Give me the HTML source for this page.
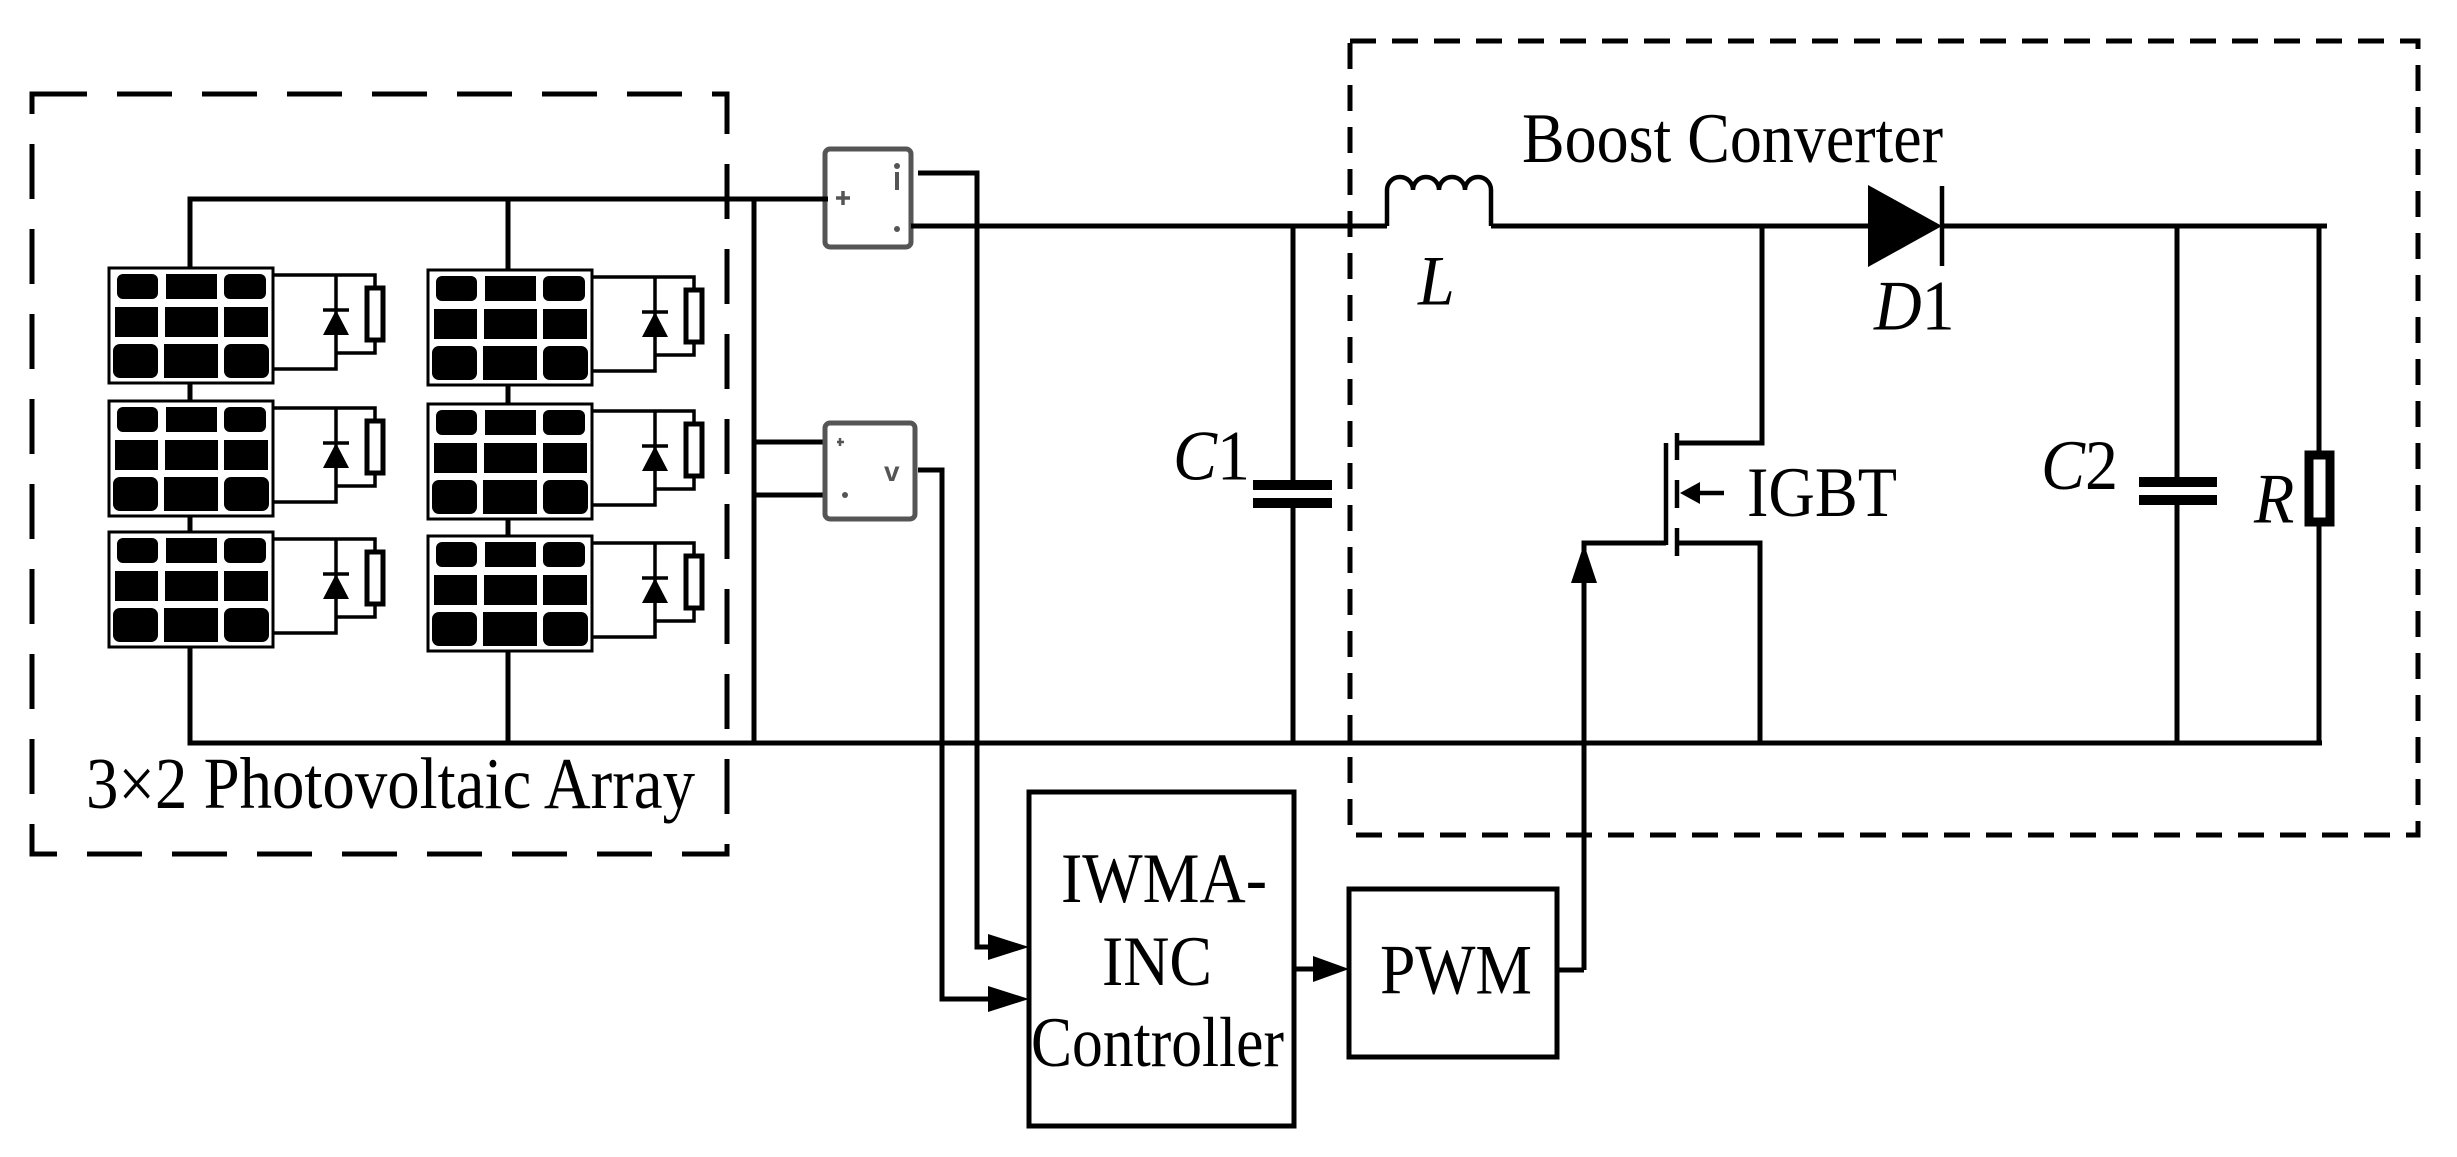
<!DOCTYPE html>
<html><head><meta charset="utf-8"><style>
html,body{margin:0;padding:0;background:#fff;}
svg{display:block;}
text{font-family:"Liberation Serif",serif;fill:#000;}
</style></head><body>
<svg width="2457" height="1157" viewBox="0 0 2457 1157" xmlns="http://www.w3.org/2000/svg">
<defs>
<g id="panel">
  <rect x="0" y="0" width="164" height="115" fill="#fff" stroke="#000" stroke-width="3"/>
  <rect x="8" y="6" width="41" height="25" rx="6" fill="#000"/>
  <rect x="57" y="6" width="51" height="25" fill="#000"/>
  <rect x="115" y="6" width="42" height="25" rx="6" fill="#000"/>
  <rect x="6" y="39" width="43" height="30" fill="#000"/>
  <rect x="56" y="39" width="53" height="30" fill="#000"/>
  <rect x="115" y="39" width="44" height="30" fill="#000"/>
  <rect x="4" y="76" width="45" height="34" rx="7" fill="#000"/>
  <rect x="55" y="76" width="54" height="34" fill="#000"/>
  <rect x="115" y="76" width="45" height="34" rx="7" fill="#000"/>
  <g stroke="#000" stroke-width="3.5" fill="none">
    <polyline points="164,7 266,7 266,20"/>
    <polyline points="266,72 266,85 227,85"/>
    <polyline points="164,101 227,101 227,7"/>
    <line x1="214" y1="42" x2="240" y2="42"/>
  </g>
  <rect x="258" y="20" width="16" height="52" fill="#fff" stroke="#000" stroke-width="5"/>
  <polygon points="227,42 214,67 240,67" fill="#000"/>
</g>
</defs>

<rect x="32" y="94" width="695" height="760" fill="none" stroke="#000" stroke-width="5" stroke-dasharray="55,30"/>
<rect x="1350" y="41" width="1068" height="794" fill="none" stroke="#000" stroke-width="5" stroke-dasharray="26,16"/>

<use href="#panel" x="109" y="268"/>
<use href="#panel" x="109" y="401"/>
<use href="#panel" x="109" y="532"/>
<use href="#panel" x="428" y="270"/>
<use href="#panel" x="428" y="404"/>
<use href="#panel" x="428" y="536"/>

<g stroke="#000" stroke-width="5" fill="none">
  <polyline points="190,268 190,199 826,199"/>
  <line x1="508" y1="199" x2="508" y2="270"/>
  <line x1="190" y1="383" x2="190" y2="401"/>
  <line x1="190" y1="516" x2="190" y2="532"/>
  <line x1="508" y1="385" x2="508" y2="404"/>
  <line x1="508" y1="519" x2="508" y2="536"/>
  <polyline points="190,647 190,743 2322,743"/>
  <line x1="508" y1="651" x2="508" y2="743"/>
  <line x1="754" y1="199" x2="754" y2="743"/>
  <line x1="754" y1="442" x2="825" y2="442"/>
  <line x1="754" y1="495" x2="825" y2="495"/>
  <line x1="913" y1="226" x2="1387" y2="226"/>
  <line x1="1491" y1="226" x2="1870" y2="226"/>
  <line x1="1942" y1="226" x2="2327" y2="226"/>
  <path d="M1387,226 L1387,190 A13,13 0 0 1 1413,190 A13,13 0 0 1 1439,190 A13,13 0 0 1 1465,190 A13,13 0 0 1 1491,190 L1491,226" stroke-width="4.5"/>
  <polyline points="918,173 977,173 977,947 990,947"/>
  <polyline points="918,470 942,470 942,999 990,999"/>
  <line x1="1293" y1="226" x2="1293" y2="480"/>
  <line x1="1293" y1="508" x2="1293" y2="743"/>
  <polyline points="1762,226 1762,443 1677,443"/>
  <polyline points="1677,543 1760,543 1760,743"/>
  <line x1="1677" y1="433" x2="1677" y2="460" stroke-width="4.5"/>
  <line x1="1677" y1="480" x2="1677" y2="508" stroke-width="4.5"/>
  <line x1="1677" y1="528" x2="1677" y2="556" stroke-width="4.5"/>
  <line x1="1666" y1="443" x2="1666" y2="545" stroke-width="4.5"/>
  <line x1="1690" y1="493" x2="1724" y2="493" stroke-width="4.5"/>
  <polyline points="1584,970 1584,543 1666,543"/>
  <line x1="1942" y1="186" x2="1942" y2="266" stroke-width="4.5"/>
  <line x1="2177" y1="226" x2="2177" y2="477"/>
  <line x1="2177" y1="505" x2="2177" y2="743"/>
  <line x1="2319" y1="226" x2="2319" y2="743"/>
  <line x1="1294" y1="969" x2="1320" y2="969"/>
  <line x1="1557" y1="970" x2="1584" y2="970"/>
  <rect x="1029" y="792" width="265" height="334" stroke-width="5"/>
  <rect x="1349" y="889" width="208" height="168" stroke-width="5"/>
</g>
<polygon points="1680,493 1700,482 1700,504" fill="#000"/>
<polygon points="1868,185 1868,267 1942,226" fill="#000"/>
<rect x="1253" y="480" width="79" height="10" fill="#000"/>
<rect x="1253" y="498" width="79" height="10" fill="#000"/>
<rect x="2139" y="477" width="78" height="10" fill="#000"/>
<rect x="2139" y="495" width="78" height="10" fill="#000"/>
<rect x="2309" y="455" width="21" height="67" fill="#fff" stroke="#000" stroke-width="9"/>
<polygon points="1029,947 988,934 988,960" fill="#000"/>
<polygon points="1029,999 988,986 988,1012" fill="#000"/>
<polygon points="1349,969 1313,956 1313,982" fill="#000"/>
<polygon points="1584,544 1571,583 1597,583" fill="#000"/>

<g stroke="#555" fill="none" stroke-width="5">
  <rect x="825" y="149" width="86" height="98" rx="5" fill="#fff"/>
  <rect x="825" y="423" width="90" height="96" rx="5" fill="#fff"/>
  <line x1="836" y1="198" x2="850" y2="198" stroke-width="3.5"/>
  <line x1="843" y1="191" x2="843" y2="205" stroke-width="3.5"/>
  <line x1="897" y1="172" x2="897" y2="190" stroke-width="4"/>
  <line x1="837" y1="442" x2="844" y2="442" stroke-width="2.5"/>
  <line x1="840" y1="438" x2="840" y2="446" stroke-width="2.5"/>
</g>
<circle cx="897" cy="166" r="3" fill="#555"/>
<circle cx="897" cy="229" r="3" fill="#555"/>
<circle cx="845" cy="495" r="3" fill="#555"/>
<text x="884" y="481" font-weight="bold" font-size="28" style="fill:#555;font-family:'Liberation Sans',sans-serif">v</text>
<g stroke="#000" stroke-width="5">
  <line x1="911" y1="226" x2="930" y2="226"/>
  <line x1="820" y1="199" x2="828" y2="199"/>
</g>

<g transform="scale(1,1.08)">
<text x="86" y="748" font-size="68" textLength="609" lengthAdjust="spacingAndGlyphs">3×2 Photovoltaic Array</text>
<text x="1522" y="150" font-size="66" textLength="421" lengthAdjust="spacingAndGlyphs">Boost Converter</text>
<text x="1418" y="282" font-size="66" font-style="italic">L</text>
<text x="1874" y="305" font-size="66"><tspan font-style="italic">D</tspan>1</text>
<text x="1173" y="444" font-size="66"><tspan font-style="italic">C</tspan>1</text>
<text x="2041" y="453" font-size="66"><tspan font-style="italic">C</tspan>2</text>
<text x="2254" y="484" font-size="66" font-style="italic">R</text>
<text x="1747" y="478" font-size="66" textLength="150" lengthAdjust="spacingAndGlyphs">IGBT</text>
<text x="1061" y="835" font-size="66" textLength="206" lengthAdjust="spacingAndGlyphs">IWMA-</text>
<text x="1102" y="912" font-size="66" textLength="110" lengthAdjust="spacingAndGlyphs">INC</text>
<text x="1031" y="987" font-size="66" textLength="253" lengthAdjust="spacingAndGlyphs">Controller</text>
<text x="1380" y="920" font-size="66" textLength="152" lengthAdjust="spacingAndGlyphs">PWM</text>
</g>
</svg>
</body></html>
